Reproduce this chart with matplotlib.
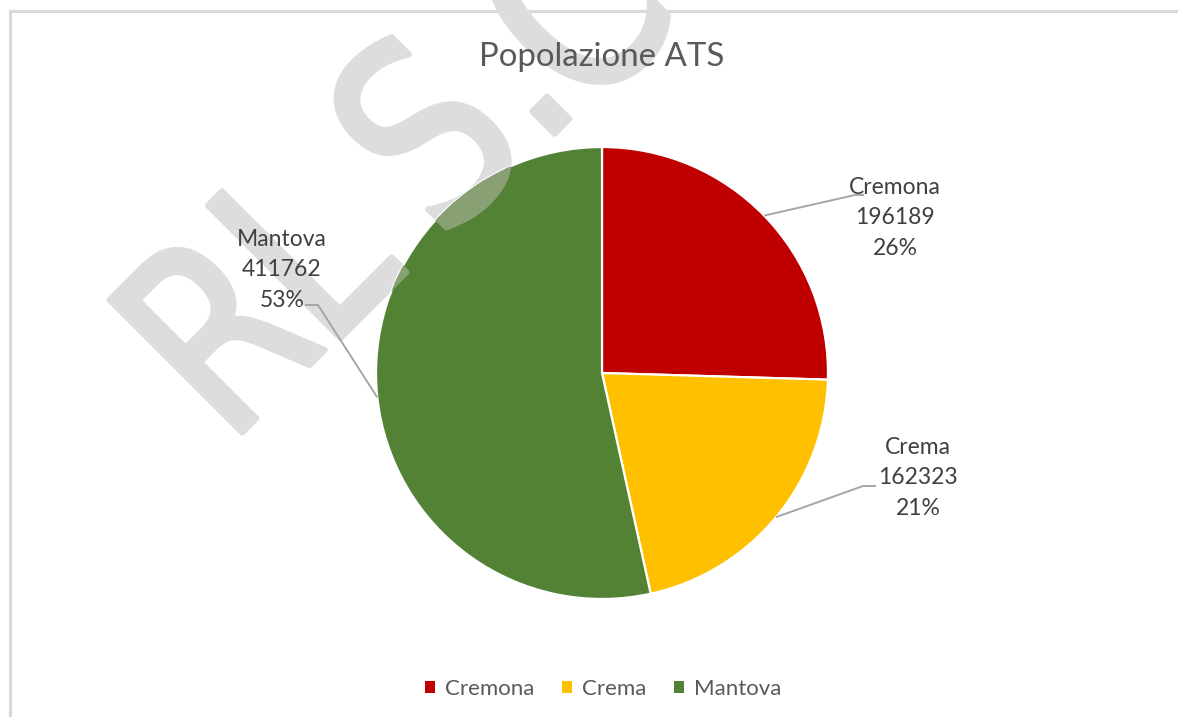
import numpy as np
import matplotlib
matplotlib.use("Agg")
import matplotlib.pyplot as plt
from matplotlib.patches import Patch, PathPatch
from matplotlib.lines import Line2D
from matplotlib.textpath import TextPath
from matplotlib.font_manager import FontProperties
from matplotlib.transforms import Affine2D, IdentityTransform

# ---- data ----
categories = ["Cremona", "Crema", "Mantova"]
values = [196189, 162323, 411762]
pct_labels = ["26%", "21%", "53%"]
colors = ["#C00000", "#FFC000", "#548235"]
title = "Popolazione ATS"

W, H = 1178, 717
DPI = 100
FONT = "Lato"

fig = plt.figure(figsize=(W / DPI, H / DPI), dpi=DPI)
fig.patch.set_facecolor("white")
fig.patch.set_linewidth(0)

# pie geometry in pixels
cx, cy, R = 602, 373, 226
ax = fig.add_axes([0, 0, 1, 1])
ax.patch.set_alpha(0)
wedges, _ = ax.pie(values, colors=colors, startangle=90, counterclock=False,
                   radius=1, center=(0, 0),
                   wedgeprops=dict(edgecolor="white", linewidth=1.6))
ax.set_aspect("auto")
ax.set_xlim(-cx / R, (W - cx) / R)
ax.set_ylim(-(H - cy) / R, cy / R)
ax.axis("off")


def px(x, y):
    return ((x - cx) / R, (cy - y) / R)


# label blocks (text center px) and leader elbow/end points (px)
label_pos = [(895, 218), (918, 478), (282, 270)]
leader_pts = [[(855, 195), (864, 195)],
              [(863, 486), (876, 486)],
              [(318, 305), (305, 305)]]

for i, w in enumerate(wedges):
    mid = np.deg2rad((w.theta1 + w.theta2) / 2)
    ex, ey = np.cos(mid), np.sin(mid)
    pts = [(ex, ey)] + [px(*p) for p in leader_pts[i]]
    xs, ys = zip(*pts)
    ax.plot(xs, ys, color="#A6A6A6", lw=1.4, solid_capstyle="butt", zorder=5)
    tx, ty = px(*label_pos[i])
    ax.text(tx, ty, f"{categories[i]}\n{values[i]}\n{pct_labels[i]}",
            ha="center", va="center", fontsize=16.5, color="#404040",
            family=FONT, linespacing=1.55, multialignment="center", zorder=6)

# title
fig.text(602 / W, 1 - 57 / H, title, ha="center", va="center",
         fontsize=23.8, color="#595959", family=FONT, zorder=6)

# legend
handles = [Patch(facecolor=c, edgecolor="none") for c in colors]
fig.legend(handles, categories, loc="center", ncol=3,
           bbox_to_anchor=(603 / W, 1 - 689 / H), frameon=False,
           prop=FontProperties(family=FONT, size=16),
           labelcolor="#595959", handlelength=0.45, handleheight=0.45,
           handletextpad=0.45, columnspacing=1.25)

# chart area border (top and left edges visible)
fig.add_artist(Line2D([9.5, W + 5], [H - 10.5, H - 10.5], transform=IdentityTransform(),
                      color="#D9D9D9", lw=2.2, zorder=-2))
fig.add_artist(Line2D([9.5, 9.5], [H - 10.5, -5], transform=IdentityTransform(),
                      color="#D9D9D9", lw=2.2, zorder=-2))

# watermark (decoration): opaque light grey under the chart,
# plus a tinted copy clipped to the green wedge to mimic transparency
wm_letters = ["R", "L", "S", ".", "C"]
wm_centers = [(210, 332), (300, 246), (418, 135), (543, 123), (565, 6)]
fp = FontProperties(family="DejaVu Sans")
wm_paths = []
for ch, (px_, py_) in zip(wm_letters, wm_centers):
    tp = TextPath((0, 0), ch, size=258, prop=fp)
    v = tp.vertices
    mx = (v[:, 0].min() + v[:, 0].max()) / 2
    my = (v[:, 1].min() + v[:, 1].max()) / 2
    tr = (Affine2D().translate(-mx, -my).scale(0.8, 1.0)
          .rotate_deg(45).translate(px_, H - py_))
    wm_paths.append(tr.transform_path(tp))

for path in wm_paths:
    fig.add_artist(PathPatch(path, facecolor="#DDDDDD", edgecolor="#DDDDDD",
                             lw=4.0, joinstyle="round", capstyle="round",
                             transform=IdentityTransform(), zorder=-1))
    tinted = PathPatch(path, facecolor="#88A073", edgecolor="#88A073",
                       lw=4.0, joinstyle="round", capstyle="round",
                       transform=IdentityTransform(), zorder=3)
    ax.add_artist(tinted)
    tinted.set_clip_path(wedges[2])

fig.savefig("out.png", dpi=DPI, facecolor="white")
